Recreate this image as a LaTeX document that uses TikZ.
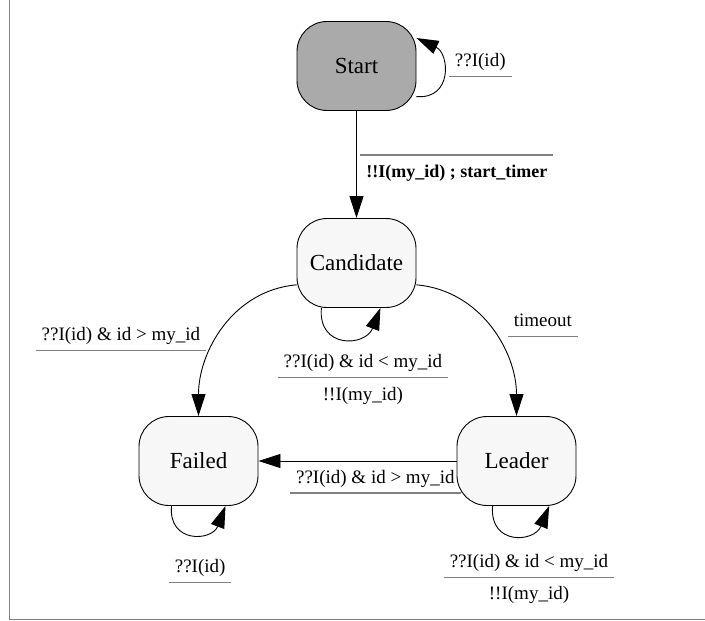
\documentclass[tikz,border=0pt]{standalone}
\usepackage{fontspec}
\setmainfont{Liberation Serif}
\usepackage{colortbl}
\usetikzlibrary{arrows.meta, positioning}

\definecolor{idle}{HTML}{F7F7F7}
\definecolor{initgray}{HTML}{AAAAAA}
\definecolor{rulegray}{HTML}{808080}
\arrayrulecolor{rulegray}
\setlength{\arrayrulewidth}{1.3pt}
\renewcommand{\arraystretch}{1.4}
\newcommand{\guard}[2]{\begin{tabular}{c}#1\\\hline#2\end{tabular}}
\newcommand{\cond}[1]{\begin{tabular}{c}#1\\\hline\end{tabular}}

\begin{document}
\begin{tikzpicture}[x=1pt, y=1pt, node distance=197pt, on grid,
    loc/.style={draw, rounded corners=30pt, minimum width=119pt, minimum height=89pt,
      fill=idle, font=\fontsize{23}{27}\selectfont},
    lbl/.style={inner sep=0pt, font=\fontsize{19}{22}\selectfont},
    >={Triangle[length=22pt, width=14pt]}, line width=0.9pt]
  \useasboundingbox (0,0) rectangle (705,-621);
  \draw[rulegray, line width=1.5pt] (9.5,0) -- (9.5,-619.5) -- (705,-619.5);

  \node[loc, fill=initgray] (start) at (356.5,-66) {Start};
  \node[loc] (cand) [below =of start] {Candidate};
  \node[loc] (failed) [below left =198pt and 158pt of cand] {Failed};
  \node[loc] (leader) [below right =198pt and 160pt of cand] {Leader};
  \path[->]
    (start.-27) edge [out=-5, in=-25, looseness=1.6]
      node[lbl, anchor=south west, xshift=6pt, yshift=-3pt] {\cond{??I(id)}} (start.25)
    (start) edge node[lbl, pos=.41, anchor=west, xshift=3.5pt]
      {\guard{\mbox{}}{\fontsize{18}{22}\selectfont\bfseries !!I(my\_id) ; start\_timer}} (cand)
    (cand.200) edge [out=185, in=90]
      node[lbl, pos=.64, anchor=south east, xshift=-5pt, yshift=-1pt] {\cond{??I(id) \& id > my\_id}} (failed)
    (cand.-20) edge [out=-5, in=90]
      node[lbl, pos=.55, anchor=south west, xshift=12pt, yshift=-2pt] {\cond{timeout}} (leader)
    (cand.-128) edge [out=-95, in=-111, looseness=1.8]
      node[lbl, anchor=north, xshift=19pt, yshift=-8pt] {\guard{??I(id) \& id < my\_id}{!!I(my\_id)}} (cand.-62)
    (leader) edge node[lbl, pos=.41, anchor=north] {\cond{??I(id) \& id > my\_id}} (failed)
    (leader.-118) edge [out=-95, in=-112, looseness=1.8]
      node[lbl, anchor=north, xshift=15pt, yshift=-11pt] {\guard{??I(id) \& id < my\_id}{!!I(my\_id)}} (leader.-54)
    (failed.-121) edge [out=-95, in=-111, looseness=1.8]
      node[lbl, anchor=north, xshift=8pt, yshift=-17pt] {\cond{??I(id)}} (failed.-59);
\end{tikzpicture}
\end{document}
